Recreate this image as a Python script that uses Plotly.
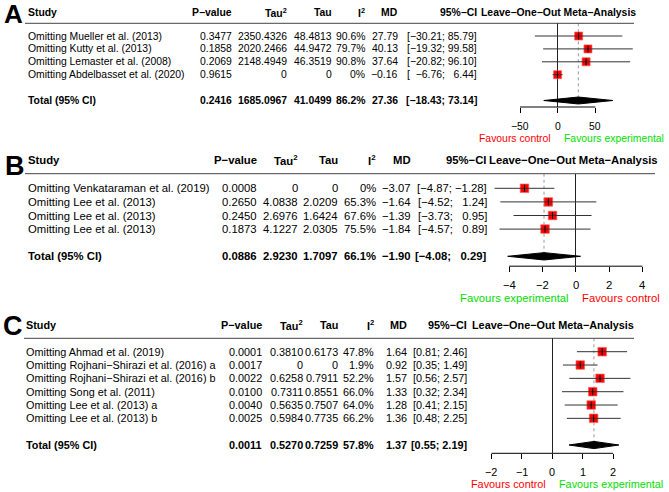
import plotly.graph_objects as go

W, H = 669, 492
FONT = "Liberation Sans, Arial, Helvetica, sans-serif"
RED = "#ff0000"
GREEN = "#00e000"

# ---------------- Panel A data ----------------
a_studies = ["Omitting Mueller et al. (2013)", "Omitting Kutty et al. (2013)",
             "Omitting Lemaster et al. (2008)", "Omitting Abdelbasset et al. (2020)"]
a_pval = [0.3477, 0.1858, 0.2069, 0.9615]
a_tau2 = [2350.4326, 2020.2466, 2148.4949, 0]
a_tau = [48.4813, 44.9472, 46.3519, 0]
a_i2 = [90.6, 79.7, 90.8, 0]
a_md = [27.79, 40.13, 37.64, -0.16]
a_lo = [-30.21, -19.32, -20.82, -6.76]
a_hi = [85.79, 99.58, 96.10, 6.44]
a_total = [0.2416, 1685.0967, 41.0499, 86.2, 27.36, -18.43, 73.14]  # p, tau2, tau, i2, md, lo, hi
a_ticks = [-50, 0, 50]
a_fav = ["Favours control", "Favours experimental"]

# ---------------- Panel B data ----------------
b_studies = ["Omitting Venkataraman et al. (2019)", "Omitting Lee et al. (2013)",
             "Omitting Lee et al. (2013)", "Omitting Lee et al. (2013)"]
b_pval = [0.0008, 0.2650, 0.2450, 0.1873]
b_tau2 = [0, 4.0838, 2.6976, 4.1227]
b_tau = [0, 2.0209, 1.6424, 2.0305]
b_i2 = [0, 65.3, 67.6, 75.5]
b_md = [-3.07, -1.64, -1.39, -1.84]
b_lo = [-4.87, -4.52, -3.73, -4.57]
b_hi = [-1.28, 1.24, 0.95, 0.89]
b_total = [0.0886, 2.9230, 1.7097, 66.1, -1.90, -4.08, 0.29]
b_ticks = [-4, -2, 0, 2, 4]
b_fav = ["Favours experimental", "Favours control"]

# ---------------- Panel C data ----------------
c_studies = ["Omitting Ahmad et al. (2019)", "Omitting Rojhani\u2212Shirazi et al. (2016) a",
             "Omitting Rojhani\u2212Shirazi et al. (2016) b", "Omitting Song et al. (2011)",
             "Omitting Lee et al. (2013) a", "Omitting Lee et al. (2013) b"]
c_pval = [0.0001, 0.0017, 0.0022, 0.0100, 0.0040, 0.0025]
c_tau2 = [0.3810, 0, 0.6258, 0.7311, 0.5635, 0.5984]
c_tau = [0.6173, 0, 0.7911, 0.8551, 0.7507, 0.7735]
c_i2 = [47.8, 1.9, 52.2, 66.0, 64.0, 66.2]
c_md = [1.64, 0.92, 1.57, 1.33, 1.28, 1.36]
c_lo = [0.81, 0.35, 0.56, 0.32, 0.41, 0.48]
c_hi = [2.46, 1.49, 2.57, 2.34, 2.15, 2.25]
c_total = [0.0011, 0.5270, 0.7259, 57.8, 1.37, 0.55, 2.19]
c_ticks = [-2, -1, 0, 1, 2]
c_fav = ["Favours control", "Favours experimental"]

headers = ["P\u2212value", "Tau<sup>2</sup>", "Tau", "I<sup>2</sup>", "MD", "95%\u2212CI"]
forest_title = "Leave\u2212One\u2212Out Meta\u2212Analysis"

# ---------------- layout (pixel positions) ----------------
LAYOUT = {
    "A": dict(fs=10.4, letter=(13.5, 13.5), lsize=26, hdr_y=12, line_y=23.3, row0=36, sp=12.9,
              axis_y=107, tick_y=126, fav_y=138, name_x=27.3,
              cols=[233.3, 288, 333, 366.5, 399.3, 477.5], ftitle_x=558,
              line_x=(25, 634), zero=557.7, ppu=0.754, fav_cols=(RED, GREEN), sq=8),
    "B": dict(fs=11.3, letter=(15, 166), lsize=27, hdr_y=160.5, line_y=173.7, row0=188.3, sp=13.6,
              axis_y=266.2, tick_y=285, fav_y=298, name_x=26.7,
              cols=[258.3, 299.3, 339, 377, 411.7, 488.3], ftitle_x=573,
              line_x=(25, 655), zero=575.7, ppu=16.67, fav_cols=(GREEN, RED), sq=8.5),
    "C": dict(fs=10.85, letter=(13, 326), lsize=27, hdr_y=325, line_y=338.3, row0=351.7, sp=13.33,
              axis_y=453.3, tick_y=471.7, fav_y=484, name_x=24.5,
              cols=[263.3, 304, 339.5, 375, 408.3, 468.3], ftitle_x=553,
              line_x=(24, 634), zero=552.3, ppu=30.4, fav_cols=(RED, GREEN), sq=8.5),
}
FX0, FX1 = 470, 668


def xp(px):
    return px / W


def yp(py):
    return 1 - py / H


def fnum(v, d):
    return f"{v:.{d}f}".replace("-", "\u2212")


def fzero(v, d):
    return "0" if v == 0 else fnum(v, d)


def fi2(v):
    return "0%" if v == 0 else f"{v:.1f}%"


FIG_SP = "\u2007"


def ci_strings(los, his):
    ls = [fnum(v, 2) for v in los]
    hs = [fnum(v, 2) for v in his]
    ml = max(len(s) for s in ls)
    mh = max(len(s) for s in hs)
    return ["[" + FIG_SP * (ml - len(a)) + a + "; " + FIG_SP * (mh - len(b)) + b + "]" for a, b in zip(ls, hs)]


fig = go.Figure()
annotations = []
shapes = []


def ann(text, x, y, size, xref="paper", yref="paper", xanchor="left", bold=False, color="black", xshift=0):
    annotations.append(dict(text=f"<b>{text}</b>" if bold else text, x=x, y=y, xref=xref, yref=yref,
                            xanchor=xanchor, yanchor="middle", showarrow=False, borderpad=0,
                            xshift=xshift, font=dict(family=FONT, size=size, color=color)))


def add_panel(n, key, studies, pval, tau2, tau, i2, md, lo, hi, total, ticks, fav):
    L = LAYOUT[key]
    fs = L["fs"]
    xa = "x" if n == 1 else f"x{n}"
    ya = "y" if n == 1 else f"y{n}"
    nrow = len(studies)
    rows = list(range(nrow))
    trow = nrow + 1
    sp, r0 = L["sp"], L["row0"]
    ktop = (L["line_y"] - r0) / sp
    kbot = (L["axis_y"] - r0) / sp

    xr = [(FX0 - L["zero"]) / L["ppu"], (FX1 - L["zero"]) / L["ppu"]]
    fig.layout[("xaxis" if n == 1 else f"xaxis{n}")] = dict(
        domain=[xp(FX0), xp(FX1)], range=xr, anchor=ya, tickvals=ticks, ticks="outside", ticklen=5,
        tickcolor="black", tickwidth=1, showticklabels=False, showline=False, showgrid=False,
        zeroline=True, zerolinecolor="#222", zerolinewidth=1, fixedrange=True)
    fig.layout[("yaxis" if n == 1 else f"yaxis{n}")] = dict(
        domain=[yp(L["axis_y"]), yp(L["line_y"])], range=[kbot, ktop], anchor=xa, visible=False,
        showgrid=False, zeroline=False, fixedrange=True)

    # axis line between extreme ticks, tick labels
    shapes.append(dict(type="line", xref=xa, yref=f"{ya} domain", x0=min(ticks), x1=max(ticks), y0=0, y1=0,
                       line=dict(color="black", width=1)))
    for t in ticks:
        ann(fnum(t, 0), t, yp(L["tick_y"]), fs, xref=xa, xanchor="center")
    # header separator
    shapes.append(dict(type="line", xref="paper", yref="paper", x0=xp(L["line_x"][0]), x1=xp(L["line_x"][1]),
                       y0=yp(L["line_y"]), y1=yp(L["line_y"]), line=dict(color="#444", width=1)))

    tp, ttau2, ttau, ti2, tmd, tlo, thi = total
    h = 0.27
    fig.add_trace(go.Scatter(x=[tmd, tmd], y=[ktop, trow - h], xaxis=xa, yaxis=ya, mode="lines",
                             line=dict(color="#999", width=1, dash="dot"), hoverinfo="skip"))
    fig.add_trace(go.Scatter(x=md, y=rows, xaxis=xa, yaxis=ya, mode="markers",
                             marker=dict(symbol="square", size=L["sq"], color=RED,
                                         line=dict(color="rgba(255,90,90,0.7)", width=1)), hoverinfo="skip"))
    cx, cy = [], []
    for r, a, b in zip(rows, lo, hi):
        cx += [a, b, None]
        cy += [r, r, None]
    fig.add_trace(go.Scatter(x=cx, y=cy, xaxis=xa, yaxis=ya, mode="lines",
                             line=dict(color="#333", width=1), hoverinfo="skip"))
    fig.add_trace(go.Scatter(x=md, y=rows, xaxis=xa, yaxis=ya, mode="markers",
                             marker=dict(symbol="line-ns", size=5, line=dict(color="black", width=1)),
                             hoverinfo="skip"))
    fig.add_trace(go.Scatter(x=[tlo, tmd, thi, tmd, tlo], y=[trow, trow - h, trow, trow + h, trow],
                             xaxis=xa, yaxis=ya, mode="lines", fill="toself", fillcolor="black",
                             line=dict(color="black", width=1), hoverinfo="skip"))

    ann(key, xp(L["letter"][0]), yp(L["letter"][1]), L["lsize"], xanchor="center", bold=True)
    hy = yp(L["hdr_y"])
    ann("Study", xp(L["name_x"]), hy, fs, bold=True)
    for txt, cx_ in zip(headers, L["cols"]):
        ann(txt, xp(cx_), hy, fs, xanchor="right", bold=True)
    ann(forest_title, xp(L["ftitle_x"]), hy, fs, xanchor="center", bold=True)

    cis = ci_strings(lo + [tlo], hi + [thi])
    cols = L["cols"]
    for r in rows:
        vals = [fnum(pval[r], 4), fzero(tau2[r], 4), fzero(tau[r], 4), fi2(i2[r]), fnum(md[r], 2), cis[r]]
        ann(studies[r], xp(L["name_x"]), r, fs, yref=ya)
        for v, cxp in zip(vals, cols):
            ann(v, xp(cxp), r, fs, yref=ya, xanchor="right")
    tvals = [fnum(tp, 4), fzero(ttau2, 4), fzero(ttau, 4), fi2(ti2), fnum(tmd, 2), cis[-1]]
    ann("Total (95% CI)", xp(L["name_x"]), trow, fs, yref=ya, bold=True)
    for v, cxp in zip(tvals, cols):
        ann(v, xp(cxp), trow, fs, yref=ya, xanchor="right", bold=True)

    fy = yp(L["fav_y"])
    ann(fav[0], 0, fy, fs, xref=xa, xanchor="right", color=L["fav_cols"][0], xshift=-5.5)
    ann(fav[1], 0, fy, fs, xref=xa, xanchor="left", color=L["fav_cols"][1], xshift=5.5)


add_panel(1, "A", a_studies, a_pval, a_tau2, a_tau, a_i2, a_md, a_lo, a_hi, a_total, a_ticks, a_fav)
add_panel(2, "B", b_studies, b_pval, b_tau2, b_tau, b_i2, b_md, b_lo, b_hi, b_total, b_ticks, b_fav)
add_panel(3, "C", c_studies, c_pval, c_tau2, c_tau, c_i2, c_md, c_lo, c_hi, c_total, c_ticks, c_fav)

fig.update_layout(width=W, height=H, margin=dict(l=0, r=0, t=0, b=0), showlegend=False,
                  paper_bgcolor="white", plot_bgcolor="rgba(0,0,0,0)",
                  font=dict(family=FONT, size=10.5, color="black"),
                  annotations=annotations, shapes=shapes)
fig.write_html("out.html", config={"displayModeBar": False})
